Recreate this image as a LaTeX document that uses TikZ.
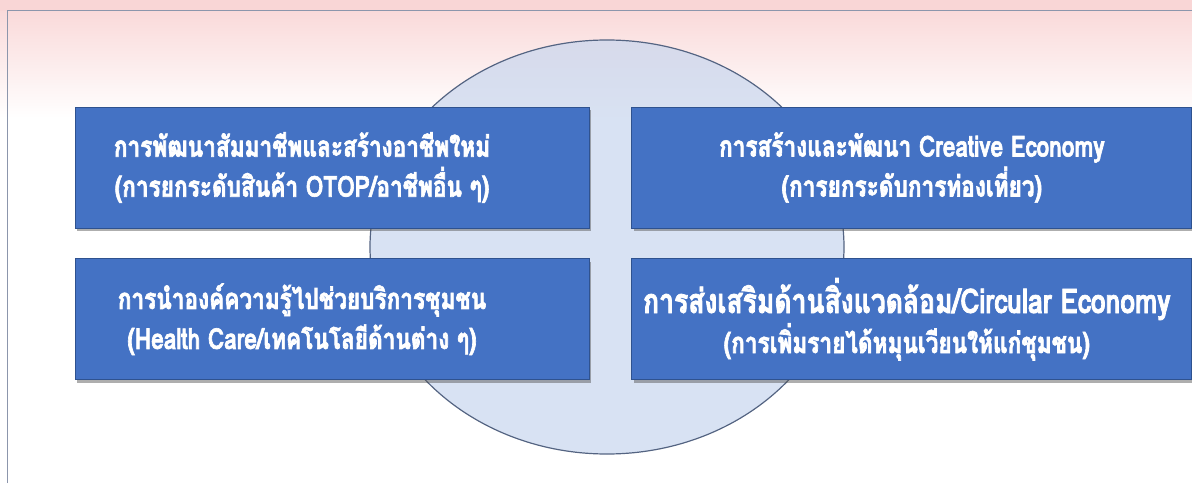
\documentclass[tikz,border=0pt]{standalone}
\usepackage{fontspec}
\newfontfamily\thaifont[Script=Thai, FakeStretch=0.78, FakeBold=2.2]{Loma}
\usetikzlibrary{shapes.geometric, shadows, positioning}
\definecolor{pinktop}{RGB}{249,214,214}
\definecolor{framegray}{RGB}{140,150,172}
\definecolor{hubfill}{RGB}{200,214,238}
\definecolor{hubline}{RGB}{84,100,130}
\definecolor{boxblue}{RGB}{68,114,196}
\definecolor{boxline}{RGB}{47,82,143}

\tikzset{
  hub/.style={ellipse, draw=hubline, line width=1.2pt, fill=hubfill, fill opacity=0.7,
    minimum width=474pt, minimum height=414pt, inner sep=0pt},
  topicbox/.style={draw=boxline, line width=0.8pt, fill=boxblue,
    inner sep=0pt, minimum height=121pt,
    drop shadow={shadow xshift=2pt, shadow yshift=-3pt, opacity=0.45, fill=black!70}},
  boxtext/.style={text=white, align=center, inner sep=0pt,
    font=\thaifont\bfseries\fontsize{29}{40}\selectfont},
}

\begin{document}
\begin{tikzpicture}[x=1pt, y=1pt]
\useasboundingbox (0,0) rectangle (1192,483);
% pink band at the top
\shade[top color=pinktop, bottom color=white] (0,483) rectangle (1192,365);
\fill[pinktop] (0,483) rectangle (1192,472);
\draw[framegray, line width=1pt] (7.5,0) -- (7.5,472) -- (1192,472);

\node[hub] (hub) at (607,236) {};

\node[topicbox, minimum width=514pt] (career) at (332,315.5) {};
\node[topicbox, minimum width=560pt, right=42pt of career] (creative) {};
\node[topicbox, minimum width=514pt, below=30pt of career] (service) {};
\node[topicbox, minimum width=560pt, right=42pt of service] (circular) {};

% texts (left ones sit a little left of centre)
\node[boxtext] (careertext) at ([xshift=-30pt]career.center)
  {การพัฒนาสัมมาชีพและสร้างอาชีพใหม่\\(การยกระดับสินค้า OTOP/อาชีพอื่น ๆ)};
\node[boxtext] (creativetext) at (creative.center)
  {การสร้างและพัฒนา Creative Economy\\(การยกระดับการท่องเที่ยว)};
\node[boxtext] (servicetext) at ([xshift=-30pt]service.center)
  {การนำองค์ความรู้ไปช่วยบริการชุมชน\\(Health Care/เทคโนโลยีด้านต่าง ๆ)};
\node[boxtext] (circulartext) at ([xshift=-5pt]circular.center)
  {{\fontsize{34}{40}\selectfont การส่งเสริมด้านสิ่งแวดล้อม/Circular Economy}\\(การเพิ่มรายได้หมุนเวียนให้แก่ชุมชน)};
\end{tikzpicture}
\end{document}
